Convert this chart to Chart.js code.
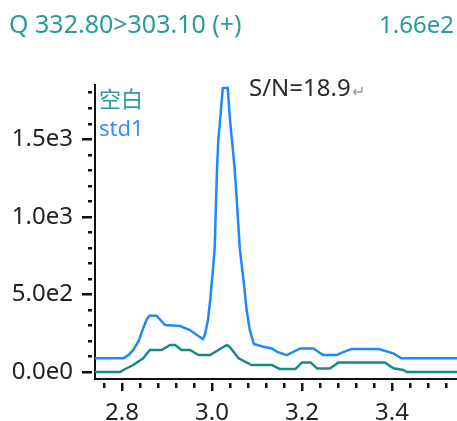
<!DOCTYPE html>
<html>
<head>
<meta charset="utf-8">
<script src="https://cdn.jsdelivr.net/npm/chart.js@4/dist/chart.umd.min.js"></script>
<style>
  html, body { margin: 0; padding: 0; background: #ffffff; }
  canvas { display: block; }
</style>
</head>
<body>
<canvas id="chrom" width="457" height="421"></canvas>
<script>
// Extracted ion chromatogram, transition 332.80 > 303.10 (+)
const transitionTitle = 'Q 332.80>303.10 (+)';
const intensityLabel = '1.66e2';
const snLabel = 'S/N=18.9';

const seriesNames = ['空白', 'std1'];

// Blank injection: retention time (min) and intensity
const blankTime = [2.74, 2.796, 2.803, 2.825, 2.847, 2.862, 2.888, 2.907, 2.918, 2.932, 2.951, 2.970, 2.996,
  3.014, 3.033, 3.040, 3.059, 3.088, 3.133, 3.151, 3.185, 3.200, 3.219, 3.234, 3.262, 3.281, 3.384, 3.403,
  3.425, 3.433, 3.545];
const blankIntensity = [0, 0, 13, 45, 88, 142, 142, 174, 174, 142, 142, 109, 109,
  142, 174, 160, 88, 45, 45, 19, 19, 62, 62, 22, 22, 62, 62, 24,
  13, 0, 0];

// Standard std1: retention time (min) and intensity
const stdTime = [2.74, 2.803, 2.815, 2.825, 2.837, 2.847, 2.855, 2.861, 2.877, 2.887, 2.896, 2.929, 2.951,
  2.968, 2.980, 2.984, 2.991, 2.996, 3.002, 3.006, 3.008, 3.011, 3.014, 3.018, 3.024, 3.035, 3.040,
  3.050, 3.055, 3.062, 3.070, 3.077, 3.084, 3.093, 3.114, 3.133, 3.145, 3.166, 3.196, 3.225, 3.247,
  3.277, 3.290, 3.310, 3.370, 3.403, 3.421, 3.545];
const stdIntensity = [88, 88, 110, 142, 200, 281, 340, 362, 362, 330, 302, 296, 270,
  235, 212, 238, 335, 464, 657, 800, 1000, 1300, 1494, 1623, 1829, 1829, 1623,
  1320, 1108, 786, 592, 399, 270, 180, 163, 152, 130, 109, 152, 152, 109,
  109, 127, 148, 148, 120, 88, 88];

// Axis tick labels
const xTickValues = [2.8, 3.0, 3.2, 3.4];
const xTickLabels = ['2.8', '3.0', '3.2', '3.4'];
const yTickValues = [0, 500, 1000, 1500];
const yTickLabels = ['0.0e0', '5.0e2', '1.0e3', '1.5e3'];

const TEAL = '#178a84';
const TEAL_TEXT = '#2a9a9c';
const BLUE = '#1e88ff';
const FONT = '"Noto Sans", "Noto Sans CJK SC", sans-serif';

const toPoints = (xs, ys) => xs.map((x, i) => ({ x: x, y: ys[i] }));

// Text annotations and tick marks (major + minor) drawn against the chart scales
const overlay = {
  id: 'overlay',
  afterDraw(chart) {
    const c = chart.ctx;
    const xs = chart.scales.x, ys = chart.scales.y;
    const area = chart.chartArea;
    c.save();

    // y ticks: major every 500, minor every 100
    c.fillStyle = '#111';
    for (let v = 0; v <= 1800; v += 100) {
      const py = Math.round(ys.getPixelForValue(v));
      const major = v % 500 === 0;
      const len = major ? 10 : 4;
      c.fillRect(area.left - 3 - len, py - 1, len, 2.5);
    }
    // x ticks: major every 0.2, minor every 0.04
    for (let k = 0; k <= 20; k++) {
      const v = 2.76 + k * 0.04;
      if (v > xs.max) break;
      const px = Math.round(xs.getPixelForValue(v));
      const major = Math.abs(((v - 2.8) / 0.2) - Math.round((v - 2.8) / 0.2)) < 1e-6;
      const len = major ? 8 : 5;
      c.fillRect(px - 1, area.bottom + 4, 2.5, len);
    }

    // Header
    c.font = '25px ' + FONT;
    c.textBaseline = 'middle';
    c.fillStyle = TEAL_TEXT;
    c.textAlign = 'left';
    c.fillText(transitionTitle, 9, 26);
    c.font = '24px ' + FONT;
    c.textAlign = 'right';
    c.fillText(intensityLabel, 454, 26);

    // Series names
    c.textAlign = 'left';
    c.font = '22px ' + FONT;
    c.fillStyle = TEAL_TEXT;
    c.fillText(seriesNames[0], 99, 101);
    c.fillStyle = '#3a8cff';
    c.fillText(seriesNames[1], 99, 130);

    // Signal-to-noise annotation
    c.font = '24px ' + FONT;
    c.fillStyle = '#2b2b2b';
    c.fillText(snLabel, 249, 89);
    const w = c.measureText(snLabel).width;
    c.font = '16px ' + FONT;
    c.fillStyle = '#9a9a9a';
    c.fillText('↵', 250 + w, 92);

    c.restore();
  }
};

new Chart(document.getElementById('chrom'), {
  type: 'line',
  data: {
    datasets: [
      {
        label: seriesNames[0],
        data: toPoints(blankTime, blankIntensity),
        borderColor: TEAL,
        borderWidth: 2.5,
        pointRadius: 0,
        tension: 0,
        fill: false
      },
      {
        label: seriesNames[1],
        data: toPoints(stdTime, stdIntensity),
        borderColor: BLUE,
        borderWidth: 2.5,
        pointRadius: 0,
        tension: 0,
        fill: false
      }
    ]
  },
  options: {
    responsive: false,
    animation: false,
    layout: { padding: { top: 85, left: 0, right: 0, bottom: 0 } },
    plugins: { legend: { display: false }, tooltip: { enabled: false }, title: { display: false } },
    scales: {
      x: {
        type: 'linear',
        min: 2.74,
        max: 3.5444,
        grid: { display: false, drawTicks: false },
        border: { display: true, color: '#111', width: 2 },
        afterBuildTicks: s => { s.ticks = xTickValues.map(v => ({ value: v })); },
        afterFit: s => { s.height = 42; },
        ticks: {
          autoSkip: false,
          maxRotation: 0,
          padding: 20,
          color: '#222',
          font: { family: FONT, size: 24 },
          callback: (v, i) => xTickLabels[i]
        }
      },
      y: {
        type: 'linear',
        min: -45,
        max: 1848,
        grid: { display: false, drawTicks: false },
        border: { display: true, color: '#111', width: 2 },
        afterBuildTicks: s => { s.ticks = yTickValues.map(v => ({ value: v })); },
        afterFit: s => { s.width = 95; },
        ticks: {
          autoSkip: false,
          padding: 22,
          color: '#222',
          font: { family: FONT, size: 24 },
          callback: (v, i) => yTickLabels[i]
        }
      }
    }
  },
  plugins: [overlay]
});
</script>
</body>
</html>
